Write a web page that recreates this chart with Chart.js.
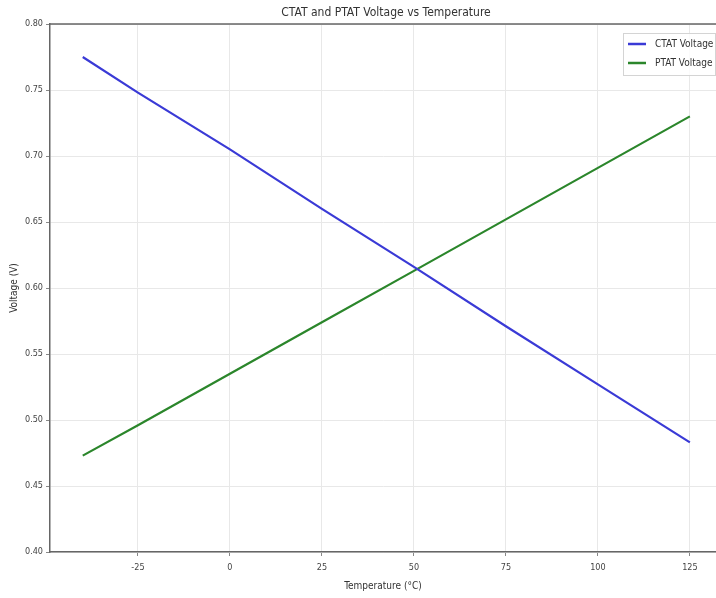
<!DOCTYPE html>
<html>
<head>
<meta charset="utf-8">
<script src="https://cdn.jsdelivr.net/npm/chart.js@4.4.0/dist/chart.umd.min.js"></script>
<style>
html,body{margin:0;padding:0;background:#fff;}
#wrap{width:716px;height:598px;position:relative;}
</style>
</head>
<body>
<div id="wrap"><canvas id="c" width="716" height="598"></canvas></div>
<script>
const temperatures = [-40, -25, 0, 25, 50, 75, 100, 125];
const ctatVoltage = [0.775, 0.748, 0.705, 0.660, 0.616, 0.571, 0.527, 0.483];
const ptatVoltage = [0.473, 0.496, 0.535, 0.574, 0.613, 0.652, 0.691, 0.730];
const xTicks = [-25, 0, 25, 50, 75, 100, 125];
const yTicks = [0.40, 0.45, 0.50, 0.55, 0.60, 0.65, 0.70, 0.75, 0.80];
const chartTitle = 'CTAT and PTAT Voltage vs Temperature';

const FONT = "'DejaVu Sans Condensed', 'Liberation Sans Narrow', 'DejaVu Sans', sans-serif";
const ctatColor = '#3a3ad6';
const ptatColor = '#2b862b';

const decor = {
  id: 'decor',
  afterDraw(chart) {
    const {ctx, chartArea: a} = chart;
    ctx.save();
    // top spine
    ctx.strokeStyle = '#666';
    ctx.lineWidth = 1.5;
    ctx.beginPath();
    ctx.moveTo(a.left, a.top);
    ctx.lineTo(a.right, a.top);
    ctx.stroke();
    // title, centred over the (cropped) axes
    ctx.fillStyle = '#333';
    ctx.font = '12px ' + FONT;
    ctx.textAlign = 'center';
    ctx.textBaseline = 'middle';
    ctx.fillText(chartTitle, 386, 13);
    // legend
    const bx = 623, by = 33, bw = 92, bh = 42;
    ctx.fillStyle = 'rgba(255,255,255,0.8)';
    ctx.fillRect(bx, by, bw, bh);
    ctx.strokeStyle = '#d4d4d4';
    ctx.lineWidth = 1;
    ctx.strokeRect(bx + 0.5, by + 0.5, bw, bh);
    ctx.font = '10px ' + FONT;
    ctx.textAlign = 'left';
    chart.data.datasets.forEach((d, i) => {
      const y = by + 11 + i * 19;
      ctx.strokeStyle = d.borderColor;
      ctx.lineWidth = 2.5;
      ctx.beginPath();
      ctx.moveTo(bx + 5, y);
      ctx.lineTo(bx + 23, y);
      ctx.stroke();
      ctx.fillStyle = '#333';
      ctx.fillText(d.label, bx + 32, y);
    });
    ctx.restore();
  }
};

new Chart(document.getElementById('c'), {
  type: 'line',
  data: {
    datasets: [
      { label: 'CTAT Voltage', data: temperatures.map((t, i) => ({x: t, y: ctatVoltage[i]})),
        borderColor: ctatColor, backgroundColor: ctatColor, borderWidth: 2.2, pointRadius: 0, tension: 0 },
      { label: 'PTAT Voltage', data: temperatures.map((t, i) => ({x: t, y: ptatVoltage[i]})),
        borderColor: ptatColor, backgroundColor: ptatColor, borderWidth: 2.2, pointRadius: 0, tension: 0 }
    ]
  },
  options: {
    responsive: false,
    animation: false,
    layout: { padding: { left: 0, right: 0, top: 24, bottom: 0 } },
    plugins: {
      title: { display: false },
      legend: { display: false },
      tooltip: { enabled: false }
    },
    scales: {
      x: {
        type: 'linear', min: -48.9, max: 132.1,
        afterBuildTicks(s) { s.ticks = xTicks.map(v => ({value: v})); },
        afterFit(s) { s.height = 46; },
        ticks: { font: { family: FONT, size: 9 }, color: '#444', padding: 6, maxRotation: 0 },
        grid: { color: '#e8e8e8', tickColor: '#888', tickLength: 4, lineWidth: 1 },
        border: { color: '#666', width: 1.5 },
        title: { display: true, text: 'Temperature (°C)', font: { family: FONT, size: 10 }, color: '#333', padding: { top: 0, bottom: 6 } }
      },
      y: {
        type: 'linear', min: 0.40, max: 0.80,
        afterBuildTicks(s) { s.ticks = yTicks.map(v => ({value: v})); },
        afterFit(s) { s.width = 50; },
        ticks: { font: { family: FONT, size: 9 }, color: '#444', padding: 3,
          callback: v => Number(v).toFixed(2) },
        grid: { color: '#e8e8e8', tickColor: '#888', tickLength: 4, lineWidth: 1 },
        border: { color: '#666', width: 1.5 },
        title: { display: true, text: 'Voltage (V)', font: { family: FONT, size: 10 }, color: '#333', padding: { top: 8, bottom: 4 } }
      }
    }
  },
  plugins: [decor]
});
</script>
</body>
</html>
